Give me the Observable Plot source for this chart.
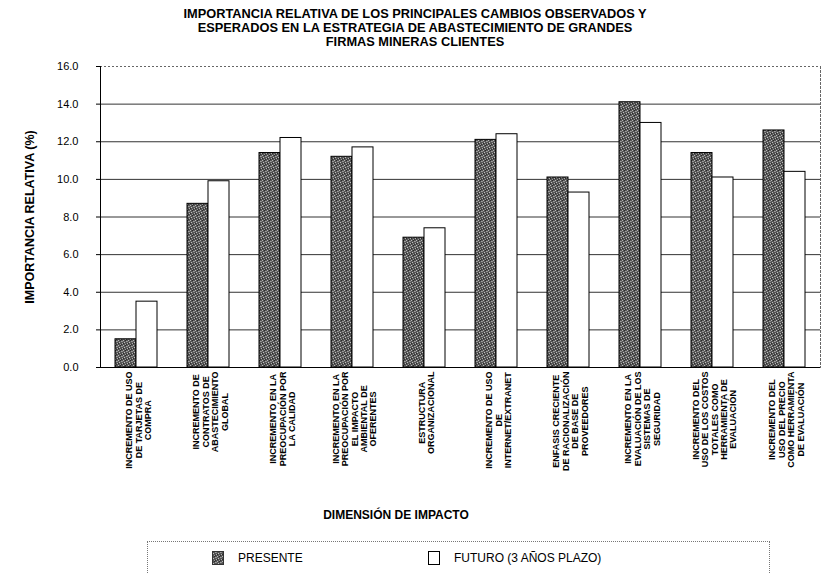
<!DOCTYPE html>
<html>
<head>
<meta charset="utf-8">
<script src="https://cdn.jsdelivr.net/npm/d3@7"></script>
<script src="https://cdn.jsdelivr.net/npm/@observablehq/plot@0.6"></script>
<style>
  body { margin: 0; background: #fff; font-family: "Liberation Sans", Arial, sans-serif; color: #000; }
  #wrap { position: relative; width: 823px; height: 573px; overflow: hidden; background: #fff; }
  #title { position: absolute; left: 0; top: 7px; width: 830px; text-align: center; font-weight: bold; font-size: 12.8px; line-height: 14px; }
  #chart { position: absolute; left: 0; top: 50px; }
  #xtitle { position: absolute; left: 0; top: 508px; width: 792px; text-align: center; font-weight: bold; font-size: 12px; }
  #legend { position: absolute; left: 147px; top: 541px; width: 623px; height: 40px; border: 1px dotted #777; box-sizing: border-box; }
  .item { position: absolute; top: 9px; display: flex; align-items: center; font-size: 12px; }
  .item svg { margin-right: 14px; }
  g[aria-label="y-axis label"] text { font-weight: bold; font-size: 12.5px; }
</style>
</head>
<body>
<svg width="0" height="0" style="position:absolute">
  <defs>
    <pattern id="stipple" width="5" height="5" patternUnits="userSpaceOnUse">
      <rect width="5" height="5" fill="#555"></rect>
      <rect x="0" y="0" width="1" height="1" fill="#b8b8b8"></rect>
      <rect x="3" y="1" width="1" height="1" fill="#a0a0a0"></rect>
      <rect x="1" y="2" width="1" height="1" fill="#c0c0c0"></rect>
      <rect x="4" y="3" width="1" height="1" fill="#b0b0b0"></rect>
      <rect x="2" y="4" width="1" height="1" fill="#999"></rect>
      <rect x="2" y="0" width="1" height="1" fill="#2a2a2a"></rect>
      <rect x="0" y="3" width="1" height="1" fill="#2a2a2a"></rect>
      <rect x="4" y="1" width="1" height="1" fill="#8a8a8a"></rect>
      <rect x="3" y="4" width="1" height="1" fill="#333"></rect>
    </pattern>
  </defs>
</svg>
<div id="wrap">
  <div id="title">IMPORTANCIA RELATIVA DE LOS PRINCIPALES CAMBIOS OBSERVADOS Y<br>ESPERADOS EN LA ESTRATEGIA DE ABASTECIMIENTO DE GRANDES<br>FIRMAS MINERAS CLIENTES</div>
  <div id="chart"></div>
  <div id="xtitle">DIMENSIÓN DE IMPACTO</div>
  <div id="legend"></div>
</div>
<script>
const categories = ["c1","c2","c3","c4","c5","c6","c7","c8","c9","c10"];
const categoryLabels = [
  "INCREMENTO DE USO\nDE TARJETAS DE\nCOMPRA",
  "INCREMENTO DE\nCONTRATOS DE\nABASTECIMIENTO\nGLOBAL",
  "INCREMENTO EN LA\nPREOCUPACIÓN POR\nLA CALIDAD",
  "INCREMENTO EN LA\nPREOCUPACIÓN POR\nEL IMPACTO\nAMBIENTAL DE\nOFERENTES",
  "ESTRUCTURA\nORGANIZACIONAL",
  "INCREMENTO DE USO\nDE\nINTERNET/EXTRANET",
  "ENFASIS CRECIENTE\nDE RACIONALIZACIÓN\nDE BASE DE\nPROVEEDORES",
  "INCREMENTO EN LA\nEVALUACIÓN DE LOS\nSISTEMAS DE\nSEGURIDAD",
  "INCREMENTO DEL\nUSO DE LOS COSTOS\nTOTALES COMO\nHERRAMIENTA DE\nEVALUACIÓN",
  "INCREMENTO DEL\nUSO DEL PRECIO\nCOMO HERRAMIENTA\nDE EVALUACIÓN"
];
const series = ["PRESENTE", "FUTURO (3 AÑOS PLAZO)"];
const presente = [1.5, 8.7, 11.4, 11.2, 6.9, 12.1, 10.1, 14.1, 11.4, 12.6];
const futuro = [3.5, 9.9, 12.2, 11.7, 7.4, 12.4, 9.3, 13.0, 10.1, 10.4];
const yTicks = [0, 2, 4, 6, 8, 10, 12, 14, 16];
const yLabel = "IMPORTANCIA RELATIVA (%)";
const seriesFill = ["url(#stipple)", "white"];

const rows = categories.flatMap((c, i) => [
  {cat: c, serie: series[0], value: presente[i]},
  {cat: c, serie: series[1], value: futuro[i]}
]);
const labelMap = new Map(categories.map((c, i) => [c, categoryLabels[i]]));

const chart = Plot.plot({
  width: 823,
  height: 430,
  marginLeft: 97,
  marginRight: 1,
  marginTop: 16,
  marginBottom: 113,
  style: {fontFamily: "'Liberation Sans', Arial, sans-serif", fontSize: "11px", background: "white", color: "black"},
  fx: {domain: categories, padding: 0, axis: null},
  x: {domain: series, paddingInner: 0, paddingOuter: 0.69, axis: null},
  y: {domain: [0, 16]},
  color: {type: "identity"},
  marks: [
    Plot.gridY(yTicks.filter(t => t > 0 && t < 16), {stroke: "#333", strokeOpacity: 1}),
    Plot.ruleY([16], {stroke: "#666", strokeDasharray: "2,2"}),
    Plot.barY(rows, {
      fx: "cat", x: "serie", y: "value",
      fill: d => seriesFill[series.indexOf(d.serie)],
      stroke: "black", strokeWidth: 1
    }),
    Plot.ruleY([0], {stroke: "black"}),
    Plot.axisY({ticks: yTicks, tickFormat: d => d.toFixed(1), tickSize: 4, tickPadding: 18, label: yLabel, labelAnchor: "center", labelArrow: "none", labelOffset: 75}),
    Plot.frame({anchor: "left", facet: "super", stroke: "black"}),
    Plot.frame({anchor: "right", facet: "super", stroke: "#666", strokeDasharray: "2,2"}),
    Plot.text(categories, {
      fx: d => d, text: d => labelMap.get(d),
      frameAnchor: "bottom", rotate: -90, textAnchor: "end", lineAnchor: "middle",
      lineHeight: 1.05, fontSize: 9, fontWeight: "bold", dy: 4, dx: 2
    })
  ]
});
document.getElementById("chart").appendChild(chart);

// center lines within each rotated label block, keeping the longest line's end at the axis
d3.select(chart).selectAll("g[aria-label='text'] text").each(function() {
  const tspans = Array.from(this.querySelectorAll("tspan"));
  if (!tspans.length) return;
  const max = d3.max(tspans, t => t.getComputedTextLength());
  this.setAttribute("text-anchor", "middle");
  tspans.forEach(t => t.setAttribute("x", -max / 2));
});

// legend
const legend = d3.select("#legend");
const itemLeft = [64, 280];
series.forEach((s, i) => {
  const it = legend.append("div").attr("class", "item").style("left", itemLeft[i] + "px");
  const sw = it.append("svg").attr("width", 12).attr("height", 14);
  sw.append("rect").attr("x", 0.5).attr("y", 0.5).attr("width", 11).attr("height", 13)
    .attr("fill", seriesFill[i]).attr("stroke", i === 0 ? "#333" : "black");
  it.append("span").text(s);
});
</script>
</body>
</html>
